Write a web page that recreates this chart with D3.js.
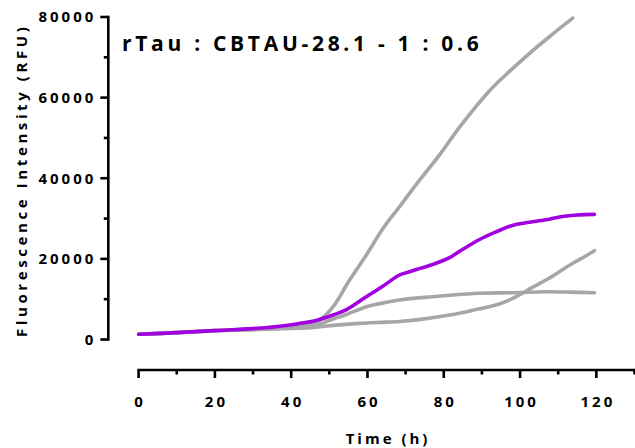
<!DOCTYPE html>
<html>
<head>
<meta charset="utf-8">
<script src="https://cdn.jsdelivr.net/npm/d3@7"></script>
<style>
html,body{margin:0;padding:0;background:#fff;}
svg{display:block;}
text{font-family:"Open Sans",sans-serif;font-weight:700;fill:#000;}
</style>
</head>
<body>
<svg id="chart" width="635" height="448"></svg>
<script>
// ---- data ----
const chartTitle = "rTau : CBTAU-28.1 - 1 : 0.6";
const xTitle = "Time (h)";
const yTitle = "Fluorescence Intensity (RFU)";
const xTicks = [0, 20, 40, 60, 80, 100, 120];
const xMinorTicks = [10, 30, 50, 70, 90, 110, 130];
const yTicks = [0, 20000, 40000, 60000, 80000];
const yMinorTicks = [10000, 30000, 50000, 70000];

const timeA = [0,10,20,30,40,44,47.5,51,55.3,59.7,64.1,68.4,72.8,78.9,84.1,92,96.4,102.5,107.7,113.8];
const valA  = [1300,1700,2200,2550,3000,3700,4840,8130,14750,20960,27580,32930,38500,45800,52600,61700,65800,71000,75100,79700];

const timeB = [0,10,20,30,40,45.7,51,54.5,59.7,63.2,68.4,71.9,77.1,80.7,89.4,98,106.8,113,119.5];
const valB  = [1300,1700,2200,2500,2900,3300,5100,6200,8130,8900,9800,10200,10600,10900,11460,11600,11850,11750,11600];

const timeC = [0,10,20,30,40,46,51,58,63.2,68.4,74,81.5,86,89.4,93.7,97,99.8,103,106.8,110,113.8,117,119.5];
const valC  = [1300,1700,2200,2450,2750,3000,3500,4000,4250,4450,5000,6080,6900,7600,8560,9700,11040,12800,14760,16600,18900,20600,22030];

const timeP = [0,10,20,30,37,42.3,46,51,54.5,59.7,64,68.4,71,74,77.1,81.5,84,89.4,93.7,98,102,106.8,111,115,119.5];
const valP  = [1300,1700,2200,2700,3300,4010,4600,6080,7400,10600,13200,16000,16800,17700,18600,20300,21800,24800,26700,28300,29000,29700,30500,30900,31050];

const series = [
  {t: timeA, v: valA, color: "#a6a6a8"},
  {t: timeB, v: valB, color: "#a6a6a8"},
  {t: timeC, v: valC, color: "#a6a6a8"},
  {t: timeP, v: valP, color: "#a100e0"}
];

// ---- layout ----
const svg = d3.select("#chart");
const x = d3.scaleLinear().domain([0, 130]).range([138.6, 634.5]);
const y = d3.scaleLinear().domain([0, 80000]).range([339.5, 17]);
const yAxisX = 108.3;
const xAxisY = 370;
const ls = 3;

// y axis
const yAxis = svg.append("g").attr("transform", `translate(${yAxisX},0)`);
yAxis.append("line").attr("x1",0).attr("x2",0).attr("y1",y(0)+1.2).attr("y2",y(80000)-1.2)
  .attr("stroke","#000").attr("stroke-width",2.6);
yAxis.selectAll(".ymaj").data(yTicks).join("line")
  .attr("x1",-8).attr("x2",0).attr("y1",d=>y(d)).attr("y2",d=>y(d))
  .attr("stroke","#000").attr("stroke-width",2.6);
yAxis.selectAll(".ymin").data(yMinorTicks).join("line")
  .attr("x1",-4.5).attr("x2",0).attr("y1",d=>y(d)).attr("y2",d=>y(d))
  .attr("stroke","#000").attr("stroke-width",2.6);
yAxis.selectAll(".ylab").data(yTicks).join("text")
  .attr("x",-15 + ls).attr("y",d=>y(d)).attr("dy","0.36em")
  .attr("text-anchor","end").style("font-size","15px").style("letter-spacing",ls+"px")
  .text(d=>d3.format("d")(d));

// x axis
const xAxis = svg.append("g").attr("transform", `translate(0,${xAxisY})`);
xAxis.append("line").attr("x1",x(0)-1.2).attr("x2",x(130)+1.2).attr("y1",0).attr("y2",0)
  .attr("stroke","#000").attr("stroke-width",2.6);
xAxis.selectAll(".xmaj").data(xTicks).join("line")
  .attr("x1",d=>x(d)).attr("x2",d=>x(d)).attr("y1",0).attr("y2",8)
  .attr("stroke","#000").attr("stroke-width",2.6);
xAxis.selectAll(".xmin").data(xMinorTicks).join("line")
  .attr("x1",d=>x(d)).attr("x2",d=>x(d)).attr("y1",0).attr("y2",4.5)
  .attr("stroke","#000").attr("stroke-width",2.6);
xAxis.selectAll(".xlab").data(xTicks).join("text")
  .attr("x",d=>x(d)+ls/2).attr("y",36.5)
  .attr("text-anchor","middle").style("font-size","15px").style("letter-spacing",ls+"px")
  .text(d=>d);

// axis titles
svg.append("text").attr("x",(x(0)+x(130))/2 + ls/2).attr("y",444)
  .attr("text-anchor","middle").style("font-size","15px").style("letter-spacing",ls+"px")
  .text(xTitle);
svg.append("text").attr("transform",`translate(27,${(y(0)+y(80000))/2 + 2}) rotate(-90)`)
  .attr("text-anchor","middle").style("font-size","15px").style("letter-spacing","3.6px")
  .text(yTitle);

// chart title
svg.append("text").attr("x",122).attr("y",51)
  .style("font-size","21px").style("letter-spacing","3.7px")
  .text(chartTitle);

// lines
const line = d3.line().x(d=>x(d[0])).y(d=>y(d[1])).curve(d3.curveCatmullRom.alpha(0.5));
svg.append("g").selectAll("path").data(series).join("path")
  .attr("d", s => line(s.t.map((t,i)=>[t, s.v[i]])))
  .attr("fill","none").attr("stroke", s=>s.color).attr("stroke-width",3.6)
  .attr("stroke-linecap","round").attr("stroke-linejoin","round");
</script>
</body>
</html>
